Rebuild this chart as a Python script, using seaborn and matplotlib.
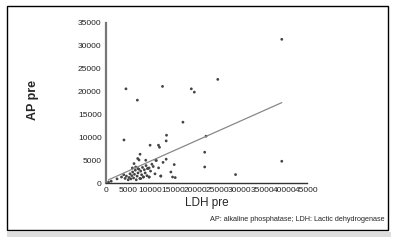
import pandas as pd
import matplotlib.pyplot as plt
import seaborn as sns
from matplotlib.patches import Rectangle

# LDH pre (x) and AP pre (y)
ldh_pre = [600, 1200, 2500, 3500, 4000, 4300, 4600, 5000, 5200, 5400, 5600, 5800,
           6000, 6200, 6400, 6600, 6800, 7000, 7200, 7400, 7600, 7800, 8000, 8200,
           8400, 8600, 8800, 9000, 9200, 9500, 9700, 10000, 10300, 10600, 11000,
           11300, 11800, 12300, 12800, 13500, 14550, 14925, 15300, 15525,
           5925, 6680, 7200, 6300, 7650, 7130, 7425, 8925, 11175, 9300, 9675,
           9900, 11775, 12000, 13575, 13500, 4050, 12300, 8400, 9675, 7800,
           4500, 12675, 7050, 17250, 19125, 19800, 25050, 22420, 22120, 22120,
           29025, 39375, 39375]
ap_pre = [200, 400, 900, 1300, 1800, 1000, 1500, 700, 1200, 2000, 900, 1600,
          2400, 1100, 1900, 2800, 700, 1500, 2200, 3000, 1000, 2600, 1800, 3400,
          1300, 2900, 2200, 3800, 1600, 3200, 1300, 2600, 4100, 3600, 2000,
          4900, 3300, 1500, 4500, 5200, 2400, 1310, 4020, 1180,
          3280, 3500, 3150, 4240, 6280, 5340, 5030, 4970, 4970, 3150, 3280,
          8250, 8250, 7800, 10430, 9190, 9400, 1530, 1310, 1310, 960,
          20560, 21090, 18090, 13280, 20560, 19840, 22620, 10220, 6720, 3500,
          1840, 31370, 4750]

df = pd.DataFrame({'LDH pre': ldh_pre, 'AP pre': ap_pre})

sns.set_style('white')
plt.rcParams['font.family'] = ['Liberation Sans', 'DejaVu Sans']

fig = plt.figure(figsize=(3.95, 2.44), dpi=100)
ax = fig.add_axes([0.268, 0.25, 0.509, 0.657])

sns.scatterplot(data=df, x='LDH pre', y='AP pre', ax=ax, s=4, color='#444444',
                edgecolor='none', linewidth=0)
sns.regplot(data=df, x='LDH pre', y='AP pre', ax=ax, scatter=False, ci=None,
            truncate=True, line_kws={'color': '#888888', 'lw': 0.9})

ax.set_xlim(0, 45000)
ax.set_ylim(0, 35000)
ax.set_xticks(range(0, 45001, 5000))
ax.set_yticks(range(0, 35001, 5000))
ax.tick_params(labelsize=6, length=2, pad=1, colors='#222222')
ax.set_xlabel('LDH pre', fontsize=8.5, labelpad=2)
ax.set_ylabel('AP pre', fontsize=9, fontweight='bold')
ax.yaxis.set_label_coords(-0.335, 0.52)
sns.despine(ax=ax)
ax.spines['left'].set_color('#777777')
ax.spines['left'].set_linewidth(1.6)
ax.spines['bottom'].set_color('#333333')
ax.spines['bottom'].set_linewidth(1.0)

fig.text(0.975, 0.1, 'AP: alkaline phosphatase; LDH: Lactic dehydrogenase',
         fontsize=5.2, ha='right', va='center')

# outer frame and shadow
fig.patches.append(Rectangle((7 / 395, 1 - 230 / 244), 381 / 395, 224 / 244,
                             transform=fig.transFigure, fill=False,
                             edgecolor='black', lw=1))
fig.patches.append(Rectangle((7 / 395, 1 - 237 / 244), 384 / 395, 5 / 244,
                             transform=fig.transFigure, color='#dddddd', lw=0))

fig.savefig('out.png', dpi=100)
